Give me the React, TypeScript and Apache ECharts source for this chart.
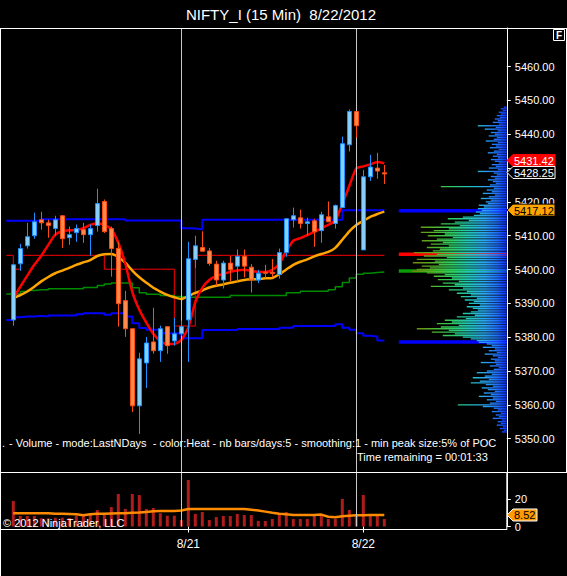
import React, { useEffect, useRef } from 'react';
import * as echarts from 'echarts';

// ---- candles (15 min bars, 8/17 .. 8/22) ----
const opens = [5385.1, 5401.7, 5407.0, 5410.0, 5414.7, 5413.8, 5412.1, 5415.9, 5409.4, 5410.9, 5411.8, 5410.3, 5413.0, 5420.1, 5412.1, 5406.2, 5390.8, 5382.5, 5359.7, 5372.4, 5378.6, 5376.0, 5383.1, 5378.9, 5381.0, 5385.1, 5403.0, 5406.5, 5405.5, 5401.6, 5396.9, 5401.9, 5401.0, 5403.9, 5400.7, 5396.9, 5399.2, 5399.2, 5398.5, 5405.0, 5414.7, 5415.3, 5413.6, 5414.4, 5411.5, 5415.6, 5413.6, 5418.3, 5436.9, 5446.7, 5405.8, 5427.4, 5430.0, 5428.6];
const highs = [5401.6, 5407.6, 5413.8, 5416.8, 5417.1, 5414.7, 5415.9, 5416.0, 5412.7, 5413.3, 5413.8, 5413.3, 5423.9, 5420.7, 5412.7, 5408.2, 5393.7, 5382.5, 5375.4, 5380.1, 5388.7, 5383.4, 5383.1, 5385.7, 5384.9, 5408.2, 5410.0, 5411.3, 5406.4, 5402.6, 5402.6, 5404.0, 5405.9, 5405.9, 5401.6, 5399.9, 5401.4, 5403.1, 5406.2, 5415.1, 5418.3, 5417.7, 5415.3, 5415.0, 5417.1, 5420.1, 5419.2, 5439.3, 5447.3, 5446.7, 5429.4, 5433.9, 5434.5, 5430.9];
const lows = [5383.4, 5399.6, 5406.2, 5409.1, 5411.8, 5409.4, 5410.0, 5406.4, 5407.3, 5408.2, 5407.9, 5404.1, 5411.2, 5410.8, 5397.9, 5383.1, 5380.1, 5357.9, 5351.4, 5365.0, 5375.1, 5372.7, 5375.1, 5377.5, 5380.4, 5372.7, 5400.5, 5405.4, 5401.1, 5395.2, 5394.4, 5396.5, 5396.5, 5397.7, 5393.2, 5396.0, 5397.5, 5397.7, 5397.3, 5403.8, 5412.4, 5412.1, 5410.0, 5406.7, 5407.9, 5414.1, 5412.1, 5418.3, 5434.9, 5439.0, 5405.8, 5426.2, 5426.8, 5425.3];
const closes = [5401.4, 5406.2, 5409.7, 5414.1, 5413.8, 5413.0, 5414.7, 5409.1, 5410.3, 5412.1, 5410.3, 5412.1, 5419.5, 5411.2, 5406.2, 5389.9, 5382.5, 5359.7, 5373.6, 5378.3, 5376.0, 5382.5, 5377.5, 5381.0, 5383.1, 5403.2, 5407.0, 5405.4, 5401.8, 5396.9, 5401.9, 5399.9, 5403.9, 5401.0, 5396.9, 5398.9, 5398.9, 5398.8, 5405.0, 5415.0, 5415.9, 5413.6, 5414.1, 5411.2, 5416.2, 5414.1, 5418.9, 5437.2, 5446.7, 5442.5, 5427.4, 5430.3, 5429.1, 5428.25];

// ---- moving averages (one value per bar) ----
const fastMA = [5391.6, 5394.9, 5398.2, 5401.4, 5404.1, 5407.3, 5410.3, 5411.3, 5411.6, 5411.7, 5412.2, 5413.2, 5413.7, 5413.2, 5411.9, 5407.9, 5401.7, 5393.4, 5388.1, 5384.3, 5381.0, 5378.9, 5378.0, 5378.0, 5379.2, 5382.8, 5390.4, 5394.6, 5396.9, 5398.1, 5398.7, 5399.3, 5399.7, 5399.9, 5399.6, 5399.3, 5399.3, 5399.9, 5401.7, 5405.5, 5408.5, 5409.3, 5410.2, 5411.1, 5412.2, 5413.2, 5414.5, 5419.4, 5424.7, 5429.9, 5430.5, 5431.1, 5431.8, 5431.42];
const slowMA = [5391.5, 5392.4, 5393.5, 5394.9, 5396.5, 5397.8, 5398.9, 5399.7, 5400.5, 5401.4, 5402.1, 5402.8, 5404.0, 5404.5, 5404.6, 5403.7, 5402.0, 5399.7, 5397.7, 5396.1, 5394.6, 5393.5, 5392.5, 5391.8, 5391.3, 5392.2, 5393.1, 5393.8, 5394.7, 5395.2, 5395.6, 5396.1, 5396.5, 5396.9, 5397.1, 5397.2, 5397.4, 5397.5, 5398.6, 5400.0, 5401.4, 5402.3, 5403.0, 5403.9, 5404.6, 5405.2, 5406.4, 5408.8, 5411.3, 5413.2, 5414.4, 5415.6, 5416.4, 5417.12];

// ---- developing profile levels (first value = bar before the first visible one) ----
const vaHigh = [5414.4, 5414.4, 5414.4, 5414.4, 5414.4, 5414.9, 5414.9, 5414.9, 5414.9, 5414.9, 5414.9, 5414.9, 5414.9, 5414.9, 5414.9, 5414.9, 5414.9, 5414.5, 5414.5, 5414.5, 5414.5, 5414.5, 5414.5, 5414.5, 5414.5, 5412.2, 5412.1, 5411.9, 5414.7, 5414.7, 5414.7, 5414.7, 5414.7, 5414.7, 5414.7, 5414.7, 5414.7, 5414.7, 5414.7, 5414.7, 5414.7, 5414.7, 5414.7, 5414.7, 5414.7, 5414.7, 5414.7, 5414.7, 5417.5, 5417.5, 5417.5, 5417.5, 5417.5, 5417.5, 5417.5];
const vaLow = [5385.1, 5385.9, 5386.1, 5386.1, 5386.3, 5386.1, 5386.4, 5386.4, 5386.4, 5386.4, 5386.8, 5387.1, 5387.1, 5387.1, 5386.6, 5387.1, 5387.1, 5386.1, 5384.1, 5382.7, 5382.2, 5382.2, 5381.2, 5381.2, 5381.2, 5379.7, 5379.7, 5379.7, 5382.1, 5382.1, 5382.1, 5382.1, 5382.1, 5382.4, 5382.4, 5382.4, 5382.4, 5382.4, 5382.4, 5382.8, 5382.8, 5383.3, 5383.3, 5383.3, 5383.3, 5383.3, 5383.3, 5383.8, 5382.8, 5382.2, 5381.2, 5380.4, 5380.2, 5379.0, 5379.0];
const midLine = [5392.8, 5392.8, 5393.5, 5393.8, 5394.0, 5394.0, 5394.3, 5394.3, 5394.3, 5394.3, 5394.3, 5394.7, 5394.7, 5395.3, 5395.7, 5396.0, 5396.0, 5396.0, 5394.6, 5393.1, 5392.7, 5392.7, 5392.3, 5392.3, 5392.0, 5391.8, 5391.8, 5391.8, 5391.8, 5391.8, 5391.8, 5391.8, 5392.3, 5392.3, 5392.3, 5392.3, 5392.3, 5392.3, 5392.3, 5392.3, 5393.1, 5393.1, 5393.6, 5393.6, 5393.6, 5393.6, 5394.0, 5394.9, 5396.2, 5397.5, 5398.6, 5398.9, 5399.1, 5399.3, 5399.3];
const pocLine = [5404.2, 5400.1, 5404.2, 5404.2, 5404.2, 5404.2, 5404.2, 5404.2, 5404.2, 5404.2, 5404.2, 5404.2, 5404.2, 5404.2, 5400.1, 5400.1, 5400.1, 5400.1, 5400.1, 5400.1, 5400.1, 5400.1, 5400.1, 5400.1, 5383.3, 5383.3, 5383.3, 5404.2, 5404.2, 5404.2, 5404.2, 5404.2, 5404.2, 5404.2, 5404.2, 5404.2, 5404.2, 5404.2, 5404.2, 5404.2, 5404.2, 5404.2, 5404.2, 5404.2, 5404.2, 5404.2, 5404.2, 5404.2, 5404.2, 5404.2, 5404.2, 5404.2, 5404.2, 5404.2, 5404.2];

// ---- volume panel ----
const volumes = [18.9, 7.8, 7.8, 7.8, 6.1, 6.1, 6.5, 6.5, 6.3, 8.0, 9.0, 9.0, 12.2, 9.5, 14.4, 24.1, 13.0, 24.1, 23.3, 13.0, 13.7, 9.8, 8.0, 8.0, 4.8, 34.4, 9.3, 10.7, 4.8, 7.0, 7.8, 7.8, 9.3, 8.5, 8.5, 4.1, 4.1, 5.6, 9.3, 10.7, 5.6, 5.6, 5.6, 7.8, 9.3, 5.6, 5.6, 20.4, 12.2, 7.8, 23.3, 7.8, 7.8, 5.6];
const volumeMA = [9.8, 9.8, 9.8, 9.8, 9.8, 9.8, 9.4, 9.4, 9.2, 9.0, 8.4, 9.0, 9.4, 9.4, 9.6, 9.8, 9.8, 10.2, 10.4, 10.8, 11.2, 11.4, 11.5, 11.5, 11.8, 13.0, 13.0, 13.0, 13.0, 13.0, 13.0, 13.0, 13.0, 13.0, 12.4, 11.8, 11.0, 10.2, 9.5, 9.0, 8.6, 8.5, 8.5, 8.5, 8.8, 7.2, 6.8, 7.6, 8.0, 8.3, 8.4, 8.5, 8.5, 8.52];

// ---- volume profile (top price, price step, volume per level from top down) ----
const profileTop = 5448;
const profileStep = 0.5;
const profileVolume = [
  3, 6, 4, 8, 6, 10, 7, 12, 9, 14,
  8, 29, 11, 22, 9, 16, 12, 18, 10, 13,
  21, 9, 15, 11, 17, 8, 13, 19, 10, 14,
  9, 16, 12, 8, 15, 11, 18, 9, 29, 13,
  10, 16, 12, 19, 14, 11, 17, 66, 13, 20,
  15, 24, 12, 18, 26, 16, 21, 19, 28, 23,
  29, 25, 31, 27, 33, 44, 59, 38, 52, 66,
  47, 86, 58, 73, 86, 62, 79, 54, 70, 85,
  64, 76, 58, 80, 67, 74, 93, 70, 83, 60,
  90, 72, 94, 68, 85, 77, 90, 95, 80, 62,
  73, 55, 69, 48, 64, 52, 76, 44, 58, 40,
  50, 36, 46, 30, 42, 33, 38, 27, 40, 34,
  29, 36, 44, 32, 50, 41, 62, 55, 70, 48,
  66, 90, 58, 75, 52, 64, 44, 36, 30, 28,
  20, 15, 24, 12, 18, 10, 22, 14, 9, 16,
  12, 26, 11, 17, 8, 13, 20, 30, 15, 22,
  34, 18, 27, 36, 21, 14, 25, 19, 12, 23,
  16, 28, 14, 20, 11, 17, 49, 24, 13, 9,
  15, 6, 11, 8, 14, 5, 9, 6, 10, 4,
  7, 3, 5,
];
// value area high, point of control, mid, value area low
const profileMarks = [5417.4, 5404.5, 5399.6, 5378.6];

// ---- ticks ----
const priceTicks = [5350, 5360, 5370, 5380, 5390, 5400, 5410, 5420, 5430, 5440, 5450, 5460];
// 5430.00 sits fully under the price tags, as in the reference
const priceLabels = [5350, 5360, 5370, 5380, 5390, 5400, 5410, 5420, 5440, 5450, 5460];
const volumeTicks = [0, 20];
const sessionBreakBars = [24, 49];
const dateTickBars = [25, 50];
const dateTickLabels = ['8/21', '8/22'];

const FONT = '"Liberation Sans", Arial, Helvetica, sans-serif';

export default function App() {
  const ref = useRef<HTMLDivElement>(null);

  useEffect(() => {
    const el = ref.current as HTMLDivElement;
    const chart = echarts.init(el, null, { renderer: 'svg' });

    const padBefore = 1;
    const nCats = 72;
    const nBars = opens.length;
    const categories = Array.from({ length: nCats }, (_, i) => String(i));
    const dateByCat: Record<number, string> = {};
    dateTickBars.forEach((b, k) => { dateByCat[b + padBefore] = dateTickLabels[k]; });

    const perBar = (arr: number[]) => ['-', ...arr];
    const candleData: any[] = [['-', '-', '-', '-']];
    for (let i = 0; i < nBars; i++) candleData.push([opens[i], closes[i], lows[i], highs[i]]);

    const heat = new echarts.graphic.LinearGradient(506.8, 0, 396, 0, [
      { offset: 0, color: '#0a2cff' },
      { offset: 0.08, color: '#1f6cff' },
      { offset: 0.2, color: '#2aa6f2' },
      { offset: 0.35, color: '#22c6b4' },
      { offset: 0.5, color: '#2ecc62' },
      { offset: 0.66, color: '#52b52a' },
      { offset: 0.82, color: '#6e8c10' },
      { offset: 1, color: '#7a5a00' },
    ], true);

    const markColors = ['#0000ff', '#ff0000', '#0a9a0a', '#0000ff'];
    const MARK_LEN = 108;

    const gridLeft = 2.8;
    const gridWidth = 504;

    const vline = (color: string) => ({
      silent: true,
      symbol: ['none', 'none'],
      label: { show: false },
      lineStyle: { color, width: 1, type: 'solid' },
      data: sessionBreakBars.map((b) => ({ xAxis: b + padBefore })),
      animation: false,
    });

    const stepLine = (data: number[], color: string, width: number, z: number) => ({
      type: 'line',
      xAxisIndex: 0,
      yAxisIndex: 0,
      data,
      step: 'end',
      symbol: 'none',
      silent: true,
      z,
      lineStyle: { color, width },
    });

    const option: any = {
      animation: false,
      backgroundColor: '#000000',
      textStyle: { fontFamily: FONT },
      grid: [
        { left: gridLeft, width: gridWidth, top: 28, height: 444.5, containLabel: false },
        { left: gridLeft, width: gridWidth, top: 473, height: 53.5, containLabel: false },
      ],
      xAxis: [
        { type: 'category', gridIndex: 0, data: categories, boundaryGap: true, show: false },
        {
          type: 'category', gridIndex: 1, data: categories, boundaryGap: true,
          axisLine: { show: false },
          axisTick: { show: true, alignWithLabel: true, length: 6, lineStyle: { color: '#ffffff' }, interval: (i: number) => dateByCat[i] !== undefined },
          axisLabel: {
            show: true, color: '#ffffff', fontSize: 12, margin: 11, fontFamily: FONT,
            interval: (i: number) => dateByCat[i] !== undefined,
            formatter: (_v: string, i: number) => dateByCat[i] || '',
          },
          splitLine: { show: false },
        },
        { type: 'value', gridIndex: 0, min: 0, max: gridWidth, inverse: true, show: false },
      ],
      yAxis: [
        {
          type: 'value', gridIndex: 0, position: 'right', min: 5340, max: 5471.4,
          axisLine: { show: true, lineStyle: { color: '#ffffff', width: 1 } },
          axisTick: { show: true, length: 4, lineStyle: { color: '#ffffff' }, customValues: priceTicks },
          axisLabel: { show: true, color: '#ffffff', fontSize: 11, margin: 8, fontFamily: FONT, customValues: priceLabels, formatter: (v: number) => v.toFixed(2) },
          splitLine: { show: false },
        },
        {
          type: 'value', gridIndex: 1, position: 'right', min: 0, max: 39.6,
          axisLine: { show: true, lineStyle: { color: '#ffffff', width: 1 } },
          axisTick: { show: true, length: 4, lineStyle: { color: '#ffffff' }, customValues: volumeTicks },
          axisLabel: { show: true, color: '#ffffff', fontSize: 11, margin: 8, fontFamily: FONT, customValues: volumeTicks, formatter: (v: number) => String(v) },
          splitLine: { show: false },
        },
      ],
      series: [
        {
          type: 'custom', xAxisIndex: 2, yAxisIndex: 0, silent: true, z: 1,
          data: profileMarks.map((p) => [MARK_LEN, p]),
          renderItem: (params: any, api: any) => {
            const p = api.value(1);
            const a = api.coord([api.value(0), p]);
            const b = api.coord([0, p]);
            return {
              type: 'rect',
              shape: { x: a[0], y: a[1] - 1.75, width: b[0] - a[0], height: 3.5 },
              style: { fill: markColors[params.dataIndex] },
            };
          },
        },
        {
          type: 'custom', xAxisIndex: 2, yAxisIndex: 0, silent: true, z: 2,
          data: profileVolume.map((v, i) => [v, profileTop - i * profileStep]),
          renderItem: (_params: any, api: any) => {
            const p = api.value(1);
            const a = api.coord([api.value(0), p]);
            const b = api.coord([0, p]);
            const h = api.size([0, profileStep])[1];
            return {
              type: 'rect',
              shape: { x: a[0], y: a[1] - h * 0.4, width: b[0] - a[0], height: h * 0.8 },
              style: { fill: heat },
            };
          },
        },
        stepLine(pocLine, '#ff0000', 1, 3),
        stepLine(midLine, '#008a00', 1.5, 3),
        stepLine(vaHigh, '#0000ff', 2, 3),
        stepLine(vaLow, '#0000ff', 2, 3),
        {
          type: 'line', xAxisIndex: 0, yAxisIndex: 0, data: perBar(slowMA), symbol: 'none', silent: true, z: 4,
          smooth: 0.2, lineStyle: { color: '#ffa500', width: 2.5 },
        },
        {
          type: 'line', xAxisIndex: 0, yAxisIndex: 0, data: perBar(fastMA), symbol: 'none', silent: true, z: 4,
          smooth: 0.2, lineStyle: { color: '#ff0000', width: 2.5 },
        },
        {
          type: 'candlestick', xAxisIndex: 0, yAxisIndex: 0, data: candleData, barWidth: 5, silent: true, z: 5,
          itemStyle: { color: '#87cefa', color0: '#ff8a4c', borderColor: '#1e90ff', borderColor0: '#ff4a10', borderWidth: 1 },
          markLine: vline('#c8c8c8'),
        },
        {
          type: 'bar', xAxisIndex: 1, yAxisIndex: 1, data: perBar(volumes), barWidth: 3, silent: true,
          itemStyle: { color: '#b01c1c' },
          markLine: vline('#c8c8c8'),
        },
        {
          type: 'line', xAxisIndex: 1, yAxisIndex: 1, data: perBar(volumeMA), symbol: 'none', silent: true, z: 4,
          lineStyle: { color: '#ff8c00', width: 2.5 },
        },
      ],
    };

    chart.setOption(option);

    const yP = (v: number) => chart.convertToPixel({ yAxisIndex: 0 } as any, v) as number;
    const yV = (v: number) => chart.convertToPixel({ yAxisIndex: 1 } as any, v) as number;

    const lastPrice = closes[closes.length - 1];
    const lastFast = fastMA[fastMA.length - 1];
    const lastSlow = slowMA[slowMA.length - 1];
    const lastVolMA = volumeMA[volumeMA.length - 1];

    let yFast = yP(lastFast) - 1.5;
    const yLast = yP(lastPrice) - 1.5;
    const ySlow = yP(lastSlow) - 1.5;
    if (yLast - yFast < 12) yFast = yLast - 12;
    const yVolTag = yV(lastVolMA);

    const tag = (y: number, text: string, fill: string, stroke: string, textFill: string, right: number) => ([
      {
        type: 'polygon', z: 100, silent: true,
        shape: { points: [[507, y], [513, y - 6], [right, y - 6], [right, y + 6], [513, y + 6]] },
        style: { fill, stroke, lineWidth: 1 },
      },
      {
        type: 'text', z: 101, silent: true, x: 514, y: y + 0.5,
        style: { text, fill: textFill, fontSize: 11, fontFamily: FONT, textAlign: 'left', textVerticalAlign: 'middle', align: 'left', verticalAlign: 'middle' },
      },
    ]);

    const txt = (x: number, y: number, text: string, size: number, align = 'left', extra: any = {}) => ({
      type: 'text', z: 90, silent: true, x, y,
      style: { text, fill: '#ffffff', fontSize: size, fontFamily: FONT, textAlign: align, textVerticalAlign: 'middle', align, verticalAlign: 'middle', ...extra },
    });
    const ln = (x1: number, y1: number, x2: number, y2: number, color = '#ffffff') => ({
      type: 'line', z: 80, silent: true, shape: { x1, y1, x2, y2 }, style: { stroke: color, lineWidth: 1 },
    });

    const graphic: any[] = [
      txt(281, 14, 'NIFTY_I (15 Min)  8/22/2012', 15, 'center'),
      ln(0, 28.5, 567, 28.5),
      ln(0.5, 28, 0.5, 576),
      ln(566.5, 28, 566.5, 472.5),
      ln(0, 472.5, 567, 472.5),
      ln(0, 529.5, 507, 529.5),
      ln(506.8, 472, 506.8, 530),
      { type: 'rect', z: 90, silent: true, shape: { x: 553.5, y: 29.5, width: 11, height: 11 }, style: { fill: '#000', stroke: '#ffffff', lineWidth: 1 } },
      txt(559, 35.5, 'F', 10, 'center', { fontWeight: 'bold' }),
      txt(2, 443, '.', 11),
      txt(9, 443, '- Volume - mode:LastNDays  - color:Heat - nb bars/days:5 - smoothing:1 - min peak size:5% of POC', 11),
      txt(357, 457, 'Time remaining = 00:01:33', 11),
      txt(3, 523, '\u00a9 2012 NinjaTrader, LLC', 11),
      ...tag(ySlow, lastSlow.toFixed(2), '#ffa500', '#000000', '#000000', 555),
      ...tag(yFast, lastFast.toFixed(2), '#ff0000', '#ff0000', '#ffffff', 555),
      ...tag(yLast, lastPrice.toFixed(2), '#000000', '#ffffff', '#ffffff', 555),
      ...tag(yVolTag, lastVolMA.toFixed(2), '#ff9a00', '#ffffff', '#000000', 537),
    ];

    chart.setOption({ graphic });

    return () => { chart.dispose(); };
  }, []);

  return <div ref={ref} style={{ position: 'fixed', left: 0, top: 0, width: 567, height: 576, background: '#000' }} />;
}
